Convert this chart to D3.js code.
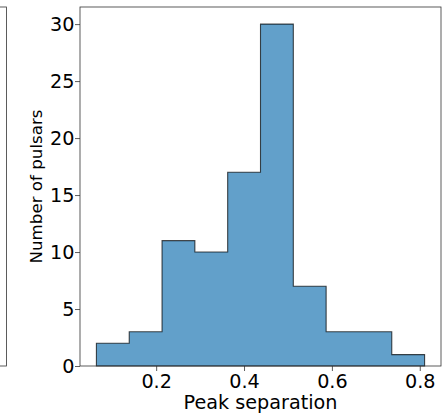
<!DOCTYPE html>
<html>
<head>
<meta charset="utf-8">
<script src="https://cdn.jsdelivr.net/npm/d3@7"></script>
<style>
  html, body { margin: 0; padding: 0; background: #fff; }
  svg { display: block; font-family: "DejaVu Sans", sans-serif; }
</style>
</head>
<body>
<svg id="chart" width="446" height="414"></svg>
<script>
// Data
const binEdges = [0.064, 0.1387, 0.2134, 0.2881, 0.3628, 0.4375, 0.5122, 0.5869, 0.6616, 0.7363, 0.811];
const counts = [2, 3, 11, 10, 17, 30, 7, 3, 3, 1];
const xTicks = [0.2, 0.4, 0.6, 0.8];
const yTicks = [0, 5, 10, 15, 20, 25, 30];
const xLabel = "Peak separation";
const yLabel = "Number of pulsars";

(function () {
const svg = d3.select("#chart");
const mLeft = 80, mRight = 441, mTop = 7, mBottom = 366;
const fontSize = "19.2px";

const xMin = binEdges[0], xMax = binEdges[binEdges.length - 1];
const pad = (xMax - xMin) * 0.05;
const x = d3.scaleLinear().domain([xMin - pad, xMax + pad]).range([mLeft, mRight]);
const y = d3.scaleLinear().domain([0, d3.max(counts) * 1.05]).range([mBottom, mTop]);

// partial neighbouring subplot (right spine visible at left edge)
svg.append("rect")
  .attr("x", -20).attr("y", mTop).attr("width", 26.5).attr("height", mBottom - mTop)
  .attr("fill", "none").attr("stroke", "#333").attr("stroke-width", 0.8);

// stepfilled histogram outline
const pts = [];
pts.push([x(binEdges[0]), y(0)]);
counts.forEach((c, i) => {
  pts.push([x(binEdges[i]), y(c)]);
  pts.push([x(binEdges[i + 1]), y(c)]);
});
pts.push([x(xMax), y(0)]);
const line = d3.line();

svg.append("path")
  .attr("d", line(pts) + "Z")
  .attr("fill", "#1f77b4").attr("fill-opacity", 0.7)
  .attr("stroke", "#000").attr("stroke-opacity", 0.7).attr("stroke-width", 1.1)
  .attr("stroke-linejoin", "miter");

// axes
const xAxis = d3.axisBottom(x).tickValues(xTicks).tickFormat(d3.format(".1f")).tickSizeOuter(0).tickSize(5).tickPadding(3.7);
const yAxis = d3.axisLeft(y).tickValues(yTicks).tickFormat(d3.format("d")).tickSizeOuter(0).tickSize(5).tickPadding(0.6);

const gx = svg.append("g").attr("transform", `translate(0,${mBottom})`).call(xAxis);
const gy = svg.append("g").attr("transform", `translate(${mLeft},0)`).call(yAxis);
[gx, gy].forEach(g => {
  g.select(".domain").remove();
  g.selectAll(".tick line").attr("stroke", "#333").attr("stroke-width", 0.8);
  g.selectAll(".tick text").attr("fill", "#000").style("font-size", fontSize).style("font-family", "DejaVu Sans");
});

// spines
svg.append("rect")
  .attr("x", mLeft).attr("y", mTop).attr("width", mRight - mLeft).attr("height", mBottom - mTop)
  .attr("fill", "none").attr("stroke", "#333").attr("stroke-width", 0.8);

// labels
svg.append("text")
  .attr("x", (mLeft + mRight) / 2).attr("y", 409.4)
  .attr("text-anchor", "middle").style("font-size", fontSize).attr("fill", "#000")
  .text(xLabel);
svg.append("text")
  .attr("transform", `translate(41.6,${(mTop + mBottom) / 2}) rotate(-90)`)
  .attr("text-anchor", "middle").style("font-size", "16.7px").attr("fill", "#000")
  .text(yLabel);
})();
</script>
</body>
</html>
